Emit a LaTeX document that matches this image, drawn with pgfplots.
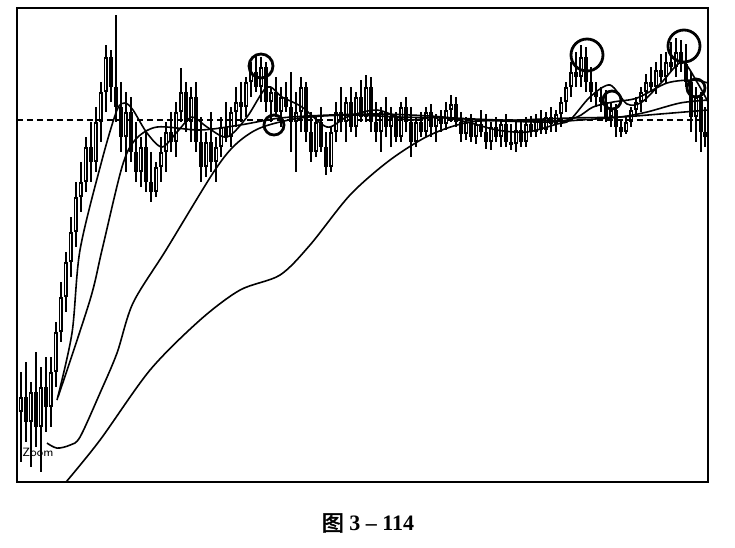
\documentclass[border=0pt]{standalone}
\usepackage{pgfplots}
\pgfplotsset{compat=1.18}
\usepackage{pgfplotstable}
\usepackage{fontspec}
\setmainfont{Liberation Serif}
\newfontfamily\cjk{Noto Sans CJK SC}[AutoFakeBold=2]
\usetikzlibrary{calc}

% candles: x in pixels from the left frame, prices in pixels above the bottom frame
\pgfplotstableread{
x o h l c
4 70 110 20 85
9 85 120 40 60
14 60 100 15 90
19 90 130 35 55
24 55 115 10 95
29 95 125 50 75
34 75 125 55 110
39 110 160 95 150
44 150 200 140 185
49 185 230 170 220
54 220 265 205 250
59 250 300 235 285
64 285 320 270 300
69 300 345 290 335
74 335 360 300 320
79 320 375 310 360
84 360 400 340 390
89 390 437 370 425
94 425 432 380 395
99 395 467 360 375
104 375 400 330 345
109 345 390 310 370
114 370 385 320 330
119 330 360 300 310
124 310 345 295 335
129 335 350 290 300
134 300 330 280 290
139 290 320 285 315
144 315 345 300 330
149 330 360 310 350
154 350 370 330 340
159 340 380 325 370
164 370 414 360 390
169 390 400 350 360
174 360 395 340 385
179 385 400 330 340
184 340 365 300 315
189 315 350 305 340
194 340 370 310 320
199 320 345 300 335
204 335 365 325 355
209 355 380 340 345
214 345 375 335 370
219 370 395 355 380
224 380 400 360 375
229 375 405 365 400
234 400 420 385 410
239 410 427 390 395
244 395 425 380 415
249 415 420 370 380
254 380 395 360 390
259 390 405 365 370
264 370 395 355 385
269 385 400 370 375
274 375 410 330 360
279 360 390 310 370
284 370 405 350 395
289 395 400 340 350
294 350 370 320 330
299 330 365 325 360
304 360 375 330 335
309 335 350 307 315
314 315 355 310 350
319 350 380 340 370
324 370 395 350 360
329 360 385 340 380
334 380 395 350 355
339 355 390 345 385
344 385 402 360 365
349 365 407 360 395
354 395 405 350 360
359 360 380 340 350
364 350 375 330 370
369 370 385 345 355
374 355 375 335 365
379 365 370 340 345
384 345 380 340 375
389 375 385 350 360
394 360 375 325 340
399 340 365 335 360
404 360 370 345 350
409 350 375 345 370
414 370 378 345 355
419 355 368 340 365
424 365 372 350 358
429 358 380 352 372
434 372 387 360 378
439 378 385 355 360
444 360 370 340 348
449 348 365 342 360
454 360 368 340 345
459 345 362 338 358
464 358 372 345 350
469 350 368 333 340
474 340 360 332 355
479 355 365 340 345
484 345 362 335 358
489 358 368 335 340
494 340 358 332 338
499 338 360 330 352
504 352 362 335 340
509 340 365 335 358
514 358 366 345 350
519 350 368 345 362
524 362 372 348 352
529 352 370 348 365
534 365 375 350 358
539 358 372 350 368
544 368 385 355 380
549 380 400 370 395
554 395 420 385 410
559 410 430 395 405
564 405 437 395 425
569 425 435 390 400
574 400 415 380 390
579 390 400 375 385
584 385 395 370 380
589 380 392 360 365
594 365 380 355 372
599 372 378 345 355
604 355 362 345 350
609 350 365 348 360
614 360 375 355 372
619 372 385 365 380
624 380 395 370 390
629 390 408 380 400
634 400 415 390 395
639 395 420 388 412
644 412 428 400 405
649 405 430 398 420
654 420 440 410 415
659 415 444 405 430
664 430 442 410 418
669 418 438 395 400
674 400 410 350 365
679 365 395 340 385
684 385 390 330 350
688 350 375 335 345
}\candles

\begin{document}
\begin{tikzpicture}
\begin{axis}[
    scale only axis,
    width=345.5pt, height=237pt,
    xmin=0, xmax=691, ymin=0, ymax=474,
    xtick=\empty, ytick=\empty,
    axis line style={line width=1.2pt},
  ]
% wicks
\addplot[draw=none, mark=none,
    error bars/.cd, y dir=both, y explicit, error mark=none,
    error bar style={line width=0.6pt, black}]
  table[x=x, y=c,
    y error plus expr=\thisrow{h}-\thisrow{c},
    y error minus expr=\thisrow{c}-\thisrow{l}] {\candles};
% bodies
\addplot[draw=none, mark=none,
    error bars/.cd, y dir=both, y explicit, error mark=none,
    error bar style={line width=2.2pt, black}]
  table[x=x, y expr=(\thisrow{o}+\thisrow{c})/2,
    y error expr={max(abs(\thisrow{o}-\thisrow{c})/2,1.5)}] {\candles};
% hollow up candles
\addplot[draw=none, mark=none,
    error bars/.cd, y dir=both, y explicit, error mark=none,
    error bar style={line width=0.5pt, white}]
  table[x=x, y expr=(\thisrow{o}+\thisrow{c})/2,
    y error expr={\thisrow{c}>\thisrow{o} ? max(abs(\thisrow{o}-\thisrow{c})/2-2,0) : 0}] {\candles};

% moving averages
\addplot[black, line width=0.8pt, smooth] coordinates {
  (40,82) (55,149) (63,232) (85,322) (100,372) (108,379) (116,372) (130,349)
  (145,335) (160,350) (175,365) (190,355) (210,345) (230,365) (250,395) (265,385)
  (285,375) (310,355) (330,365) (360,372) (390,362) (420,365) (450,360) (480,352)
  (510,350) (540,358) (553,362) (573,385) (593,397) (610,378) (625,380) (645,400)
  (665,420) (680,400) (691,380)};
\addplot[black, line width=0.8pt, smooth] coordinates {
  (41,85) (73,182) (85,232) (105,315) (118,342) (140,355) (183,352) (223,357)
  (263,364) (313,367) (363,368) (413,366) (463,362) (533,360) (560,365) (576,375)
  (596,380) (620,384) (650,399) (676,402) (691,399)};
\addplot[black, line width=0.8pt, smooth] coordinates {
  (30,39) (40,34) (53,37) (63,45) (83,89) (100,129) (116,179) (149,232) (196,309)
  (218,337) (243,354) (283,364) (333,367) (383,365) (433,364) (483,362) (543,361)
  (563,362) (603,365) (630,370) (663,379) (691,382)};
\addplot[black, line width=0.8pt, smooth] coordinates {
  (49,0) (83,42) (133,112) (183,162) (223,192) (263,207) (293,237) (333,287)
  (373,322) (413,347) (453,360) (503,362) (553,364) (603,365) (643,368) (691,372)};

% reference level
\addplot[black, line width=0.9pt, dash pattern=on 3pt off 2pt] coordinates {(0,362) (691,362)};

% marked candles
\addplot[only marks, mark=o, mark size=6pt, mark options={line width=1.4pt}] coordinates {(244,416)};
\addplot[only marks, mark=o, mark size=5pt, mark options={line width=1.4pt}] coordinates {(257,357)};
\addplot[only marks, mark=o, mark size=8pt, mark options={line width=1.4pt}] coordinates {(570,427) (667,436)};
\addplot[only marks, mark=o, mark size=4.5pt, mark options={line width=1.4pt}] coordinates {(595,382) (679,394)};

\node[font=\sffamily\fontsize{6}{7}\selectfont, inner sep=0pt] at (axis cs:21,30) {Zoom};
\end{axis}
\node[font=\fontsize{11}{13}\selectfont\bfseries, inner sep=0pt]
  at ($(current axis.south west)+(175.5pt,-20.5pt)$) {{\cjk 图} 3 -- 114};
\draw[draw=none] ($(current axis.south west)+(-8.5pt,-32.5pt)$) rectangle ($(current axis.north east)+(13.5pt,4pt)$);
\end{tikzpicture}
\end{document}
